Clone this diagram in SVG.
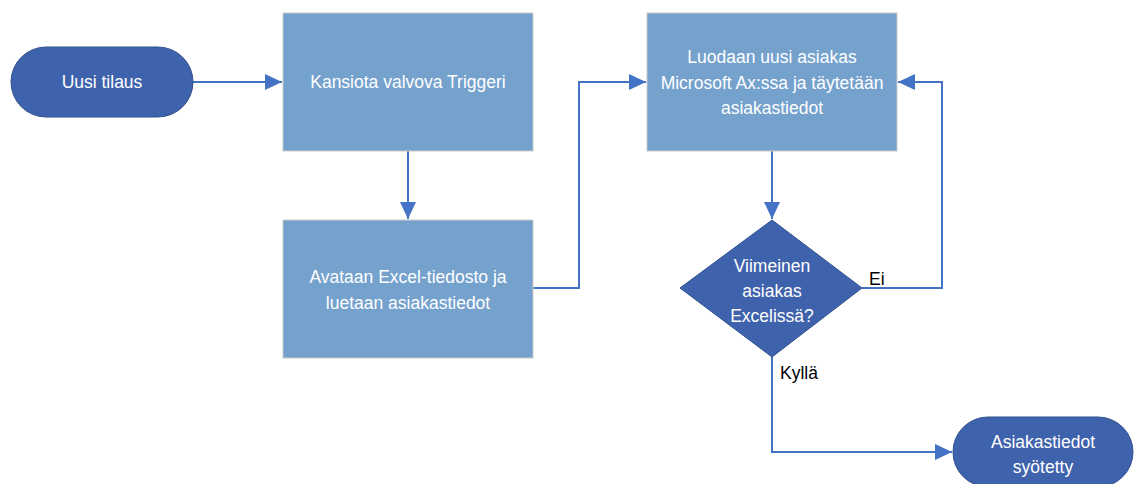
<svg xmlns="http://www.w3.org/2000/svg" width="1136" height="484" viewBox="0 0 1136 484">
<defs>
<style>
.term{fill:#3F62AD;stroke:#2F528F;stroke-width:1}
.proc{fill:#75A1CD;stroke:#C9C9C9;stroke-width:1}
.dec{fill:#3F62AD;stroke:#2F528F;stroke-width:1}
.t{font-family:"Liberation Sans",Arial,sans-serif;font-size:17.5px;fill:#ffffff;text-anchor:middle}
.lbl{font-family:"Liberation Sans",Arial,sans-serif;font-size:17.5px;fill:#000000}
.c{fill:none;stroke:#4472C4;stroke-width:2}
</style>
<marker id="arr" markerWidth="18" markerHeight="16" refX="17" refY="8" orient="auto" markerUnits="userSpaceOnUse">
<path d="M0,0 L17,8 L0,16 z" fill="#4472C4"/>
</marker>
</defs>
<rect width="1136" height="484" fill="#ffffff"/>
<g id="connectors">
<path class="c" d="M193,82 L282,82" marker-end="url(#arr)"/>
<path class="c" d="M408,151 L408,219" marker-end="url(#arr)"/>
<path class="c" d="M533,288 L579,288 L579,82 L646,82" marker-end="url(#arr)"/>
<path class="c" d="M772,151 L772,219" marker-end="url(#arr)"/>
<path class="c" d="M862,288 L942,288 L942,82 L898,82" marker-end="url(#arr)"/>
<path class="c" d="M772,357 L772,452 L952,452" marker-end="url(#arr)"/>
<text class="lbl" x="869" y="285">Ei</text>
<text class="lbl" x="780" y="379">Kyllä</text>
</g>
<g id="start">
<rect class="term" x="11" y="47" width="182" height="70" rx="35" ry="35"/>
<text class="t" x="102" y="88">Uusi tilaus</text>
</g>
<g id="trigger">
<rect class="proc" x="283" y="13" width="250" height="138"/>
<text class="t" x="408" y="88">Kansiota valvova Triggeri</text>
</g>
<g id="excel">
<rect class="proc" x="283" y="220" width="250" height="138"/>
<text class="t" x="408" y="283">Avataan Excel-tiedosto ja</text>
<text class="t" x="408" y="309">luetaan asiakastiedot</text>
</g>
<g id="create">
<rect class="proc" x="647" y="13" width="250" height="138"/>
<text class="t" x="772" y="63">Luodaan uusi asiakas</text>
<text class="t" x="772" y="89">Microsoft Ax:ssa ja täytetään</text>
<text class="t" x="772" y="114">asiakastiedot</text>
</g>
<g id="decision">
<polygon class="dec" points="772,220 862,288 772,357 680,288"/>
<text class="t" x="772" y="272">Viimeinen</text>
<text class="t" x="772" y="297">asiakas</text>
<text class="t" x="772" y="322">Excelissä?</text>
</g>
<g id="end">
<rect class="term" x="953" y="417" width="180" height="70" rx="35" ry="35"/>
<text class="t" x="1043" y="448">Asiakastiedot</text>
<text class="t" x="1043" y="473">syötetty</text>
</g>
</svg>
